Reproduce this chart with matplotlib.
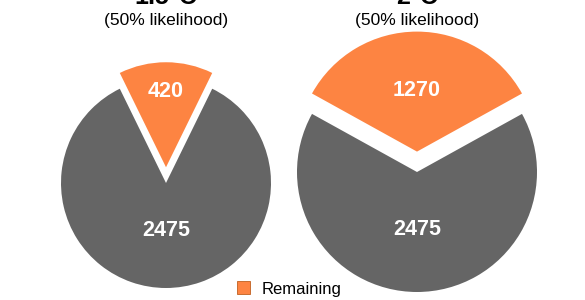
import matplotlib.pyplot as plt
from matplotlib.patches import Patch

plt.rcParams['font.family'] = ['Liberation Sans', 'DejaVu Sans']

# carbon budget (GtCO2)
titles = ["1.5°C", "2°C"]
subtitles = ["(50% likelihood)", "(50% likelihood)"]
remaining = [420, 1270]
used = [2475, 2475]

orange = "#FD8442"
grey = "#656565"

fig = plt.figure(figsize=(5.85, 3.0), dpi=100)
W, H = 585, 300

# pie layout in pixels: centre x, centre y (from top), radius, explode, label offsets
layout = [(166, 183, 105, 0.15, 0.72, 0.45), (417, 172, 120, 0.17, 0.51, 0.48)]

for i, (cx, cy, r, ex, d_top, d_bot) in enumerate(layout):
    half = r * 1.3
    ax = fig.add_axes([(cx - half) / W, (H - cy - half) / H, 2 * half / W, 2 * half / H])
    vals = [remaining[i], used[i]]
    frac = remaining[i] / sum(vals)
    ax.pie(vals, colors=[orange, grey], explode=[ex, 0],
           startangle=90 - 180 * frac)
    ax.text(0, ex + d_top, str(remaining[i]), ha='center', va='center',
            color='white', fontsize=15.5, fontweight='bold')
    ax.text(0, -d_bot, str(used[i]), ha='center', va='center',
            color='white', fontsize=15.5, fontweight='bold')
    ax.set_xlim(-1.3, 1.3)
    ax.set_ylim(-1.3, 1.3)
    ax.set_aspect('equal')
    ax.axis('off')

    # titles sit mostly above the top edge, as in the reference crop
    fig.text(cx / W, (H - 4.5) / H, titles[i], ha='center', va='baseline',
             fontsize=18, fontweight='bold')
    fig.text(cx / W, (H - 21) / H, subtitles[i], ha='center', va='center',
             fontsize=12.5)

fig.legend(handles=[Patch(facecolor=orange, edgecolor="#c06020", linewidth=0.6, label="Remaining")],
           loc='center left', bbox_to_anchor=(237 / W, (H - 289) / H), frameon=False,
           fontsize=12, handlelength=0.8, handleheight=0.8, handletextpad=0.65,
           borderpad=0, borderaxespad=0)

fig.savefig("out.png", dpi=100)
